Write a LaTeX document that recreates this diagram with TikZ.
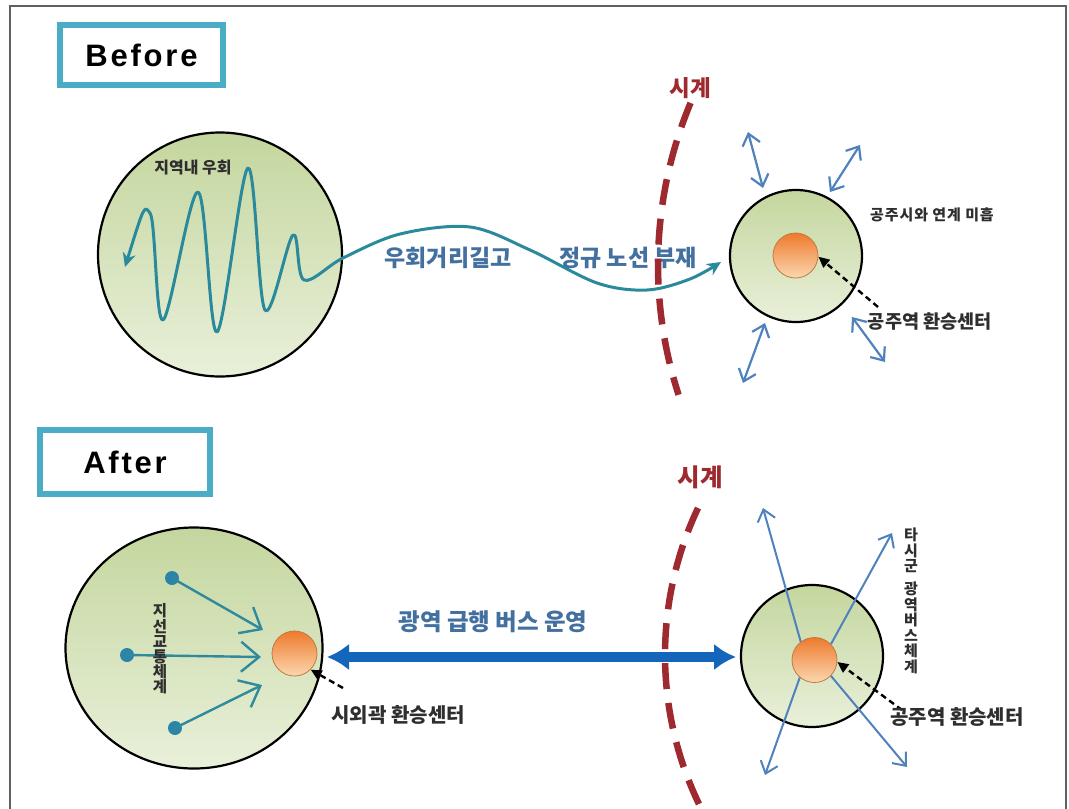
\documentclass[tikz,border=0pt]{standalone}
\usepackage{fontspec}
\setmainfont{Liberation Sans}
\newfontfamily\kr{Noto Sans CJK KR}
\usetikzlibrary{arrows.meta,shapes.geometric}
\definecolor{boxblue}{HTML}{4BACC6}
\definecolor{zonetop}{HTML}{C4D69E}
\definecolor{zonebot}{HTML}{E9F0DA}
\definecolor{wavecol}{HTML}{2A8A9C}
\definecolor{labblue}{HTML}{43709F}
\definecolor{bordred}{HTML}{9E2A30}
\definecolor{linkblue}{HTML}{4F81BD}
\definecolor{bigblue}{HTML}{1466BA}
\definecolor{orgtop}{HTML}{EE7A2C}
\definecolor{orgbot}{HTML}{FBD7B0}
\definecolor{orgdraw}{HTML}{C07A40}
\definecolor{dotcol}{HTML}{2C84A8}
\definecolor{feedcol}{HTML}{2F8A9E}
\definecolor{darktxt}{HTML}{2E2E2E}
\newcommand\fsz[1]{\fontsize{#1}{#1}\selectfont}
\begin{document}
\begin{tikzpicture}[x=1pt,y=-1pt,
  tagbox/.style={draw=boxblue,line width=6pt,fill=white,inner sep=0pt,
    font=\bfseries\fsz{31}\addfontfeature{LetterSpace=9}},
  zone/.style={draw=black,line width=2.2pt,top color=zonetop,bottom color=zonebot,inner sep=0pt},
  hub/.style={circle,draw=orgdraw,line width=0.8pt,top color=orgtop,bottom color=orgbot,
    minimum size=45pt,inner sep=0pt},
  dasharrow/.style={draw=black,line width=2.4pt,dash pattern=on 6pt off 4pt,
    -{Triangle[length=11pt,width=10pt]}},
  linkdbl/.style={draw=linkblue,line width=2.2pt,
    {Straight Barb[length=11pt,width=18pt]}-{Straight Barb[length=11pt,width=18pt]}},
  linkone/.style={draw=linkblue,line width=2pt,-{Straight Barb[length=11pt,width=18pt]}},
  feed/.style={draw=feedcol,line width=2.4pt,-{Straight Barb[length=18pt,width=30pt]}},
  dot/.style={circle,fill=dotcol,minimum size=14pt,inner sep=0pt},
  cityline/.style={draw=bordred,line width=6.5pt,dash pattern=on 26pt off 14pt},
  citylab/.style={text=bordred,font=\kr\bfseries\fsz{22.5}},
  routelab/.style={text=labblue,font=\kr\bfseries\fsz{23}},
  smalllab/.style={text=darktxt,font=\kr\bfseries\fsz{15}\addfontfeature{LetterSpace=6}},
  hublab/.style={text=darktxt,font=\kr\bfseries\fsz{20}},
  vlab/.style={text=darktxt,align=center,inner sep=0pt}]
\useasboundingbox (0,0) rectangle (1069,809);
% frame
\draw[gray!75!black,line width=1.8pt] (10,812) -- (10,6) -- (1066,6) -- (1066,812);

% ---------------- Before ----------------
\node[tagbox,minimum width=163pt,minimum height=60pt] (before) at (141.5,55) {Before};

\node[zone,circle,minimum size=244pt] (bl) at (220,254.5) {};
\node[smalllab,font=\kr\bfseries\fsz{16}] (bltxt) at (193,168) {지역내 우회};

\node[zone,circle,minimum size=132pt] (br) at (796,256) {};
\node[hub] (bri) at (795.5,255.5) {};

\draw[wavecol,line width=3pt,line join=round,
  {Stealth[length=14pt,width=13pt]}-{Stealth[length=14pt,width=13pt]}]
  plot[smooth,tension=0.55] coordinates {(125,267) (150,213) (163,320) (198,192) (217,332)
  (248,168) (265,310) (293,235) (304,280) (343,258) (400,234) (470,227) (530,250)
  (597,283) (647,290) (690,279) (721,262)};

\node[routelab] (r1) at (448,258) {우회거리길고};
\node[routelab] (r2) at (628,258) {정규 노선 부재};

\coordinate (a1s) at (748,132); \coordinate (a1e) at (763,188);
\coordinate (a2s) at (860,145); \coordinate (a2e) at (830,192);
\coordinate (a3s) at (765,323); \coordinate (a3e) at (743,383);
\coordinate (a4s) at (852,317); \coordinate (a4e) at (885,362);
\draw[linkdbl] (a1s) -- (a1e);
\draw[linkdbl] (a2s) -- (a2e);
\draw[linkdbl] (a3s) -- (a3e);
\draw[linkdbl] (a4s) -- (a4e);

\node[smalllab] (brtxt) at (932,215) {공주시와 연계 미흡};
\node[hublab,font=\kr\bfseries\fsz{18.6}] (brhub) at (930,322) {공주역 환승센터};
\coordinate (brl) at (878,307);
\draw[dasharrow] (brl) -- (bri.-3);

\draw[cityline] plot[domain=202.7:162,samples=60] ({1078+420*cos(\x)},{265+420*sin(\x)});
\node[citylab] (city1) at (690,88) {시계};

% ---------------- After ----------------
\node[tagbox,minimum width=170pt,minimum height=64pt] (after) at (125,462) {After};

\node[zone,ellipse,minimum width=257pt,minimum height=241pt] (al) at (194,648) {};
\node[hub] (ali) at (294.5,653.5) {};
\node[dot] (d1) at (172,578) {};
\node[dot] (d2) at (127,655) {};
\node[dot] (d3) at (175,728) {};
\coordinate (f1) at (263,630);
\coordinate (f2) at (261,657);
\coordinate (f3) at (262,685);
\draw[feed] (d1.center) -- (f1);
\draw[feed] (d2.center) -- (f2);
\draw[feed] (d3.center) -- (f3);
\node[vlab,font=\kr\bfseries\fontsize{15.5}{15.2}\selectfont] (feedtxt) at (160,649)
  {지\\선\\교\\통\\체\\계};
\coordinate (alhubl) at (343,688);
\draw[dasharrow] (alhubl) -- (ali.-45);
\node[hublab,anchor=west] (alhub) at (328,715) {시외곽 환승센터};

\node[zone,circle,minimum size=142pt] (ar) at (812,656) {};
\node[hub] (ari) at (814.5,660) {};
\coordinate (o1) at (763,508);
\coordinate (o2) at (892,533);
\coordinate (o3) at (765,775);
\coordinate (o4) at (907,767);
\draw[linkone] (ari.127) -- (o1);
\draw[linkone] (ari.44) -- (o2);
\draw[linkone] (ari.230) -- (o3);
\draw[linkone] (ari.-44) -- (o4);
\node[vlab,font=\kr\bfseries\fontsize{15}{15.6}\selectfont] (othtxt) at (911,601)
  {타\\시\\군\\[7pt]광\\역\\버\\스\\체\\계};
\coordinate (arhubl) at (902,710);
\draw[dasharrow] (arhubl) -- (ari.-5);
\node[hublab] (arhub) at (957,717) {공주역 환승센터};

\coordinate (ba1) at (327,657);
\coordinate (ba2) at (736,657);
\draw[bigblue,line width=10pt,
  {Latex[length=22pt,width=27pt]}-{Latex[length=22pt,width=27pt]}] (ba1) -- (ba2);
\node[routelab,font=\kr\bfseries\fsz{23.5}] (bus) at (493,622) {광역 급행 버스 운영};

\draw[cityline] plot[domain=205.3:152,samples=60] ({1009+344*cos(\x)},{655+344*sin(\x)});
\node[citylab,font=\kr\bfseries\fsz{24.5}] (city2) at (700,477) {시계};
\end{tikzpicture}
\end{document}
